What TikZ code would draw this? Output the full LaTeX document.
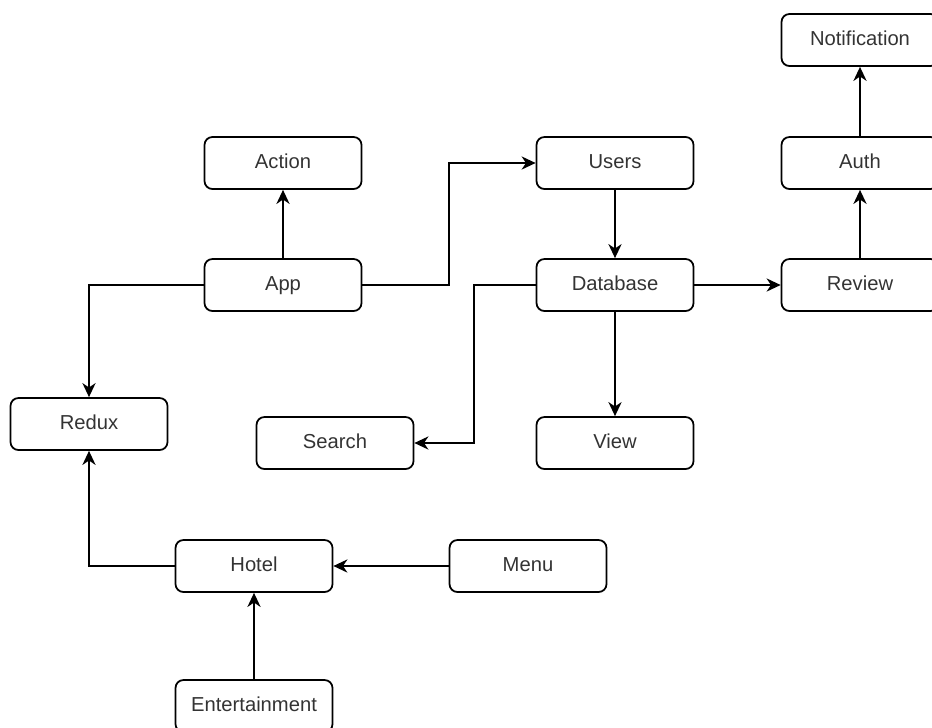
\documentclass[tikz,border=0pt]{standalone}
\usepackage{fontspec}
\setmainfont{Liberation Sans}
\usetikzlibrary{arrows.meta}
\definecolor{labelgray}{HTML}{333333}

\begin{document}
\begin{tikzpicture}[x=0.02cm,y=-0.02cm,
	block/.style={draw, line width=1pt, rounded corners=4.5pt, minimum width=3.14cm, minimum height=1.04cm, inner sep=0pt, text height=1.6ex, text depth=.4ex, text=labelgray, font=\fontsize{11.5}{13}\selectfont},
	link/.style={->,>={Stealth[length=8pt,width=7.5pt,inset=2.5pt]}, line width=1pt}]
	\clip (0,0) rectangle (932,727);

	\node[block](notif) at (860,40) {Notification};
	\node[block](action) at (283,163) {Action};
	\node[block](users) at (615,163) {Users};
	\node[block](auth) at (860,163) {Auth};
	\node[block](app) at (283,285) {App};
	\node[block](db) at (615,285) {Database};
	\node[block](review) at (860,285) {Review};
	\node[block](redux) at (89,424) {Redux};
	\node[block](search) at (335,443) {Search};
	\node[block](view) at (615,443) {View};
	\node[block](hotel) at (254,566) {Hotel};
	\node[block](menu) at (528,566) {Menu};
	\node[block](ent) at (254,706) {Entertainment};

	\draw[link](app) -- (action);
	\draw[link](app.east) -- ++(87,0) |- (users.west);
	\draw[link](app.west) -| (redux.north);
	\draw[link](users) -- (db);
	\draw[link](db) -- (view);
	\draw[link](db.west) -- ++(-62,0) |- (search.east);
	\draw[link](db) -- (review);
	\draw[link](review) -- (auth);
	\draw[link](auth) -- (notif);
	\draw[link](hotel.west) -| (redux.south);
	\draw[link](menu) -- (hotel);
	\draw[link](ent) -- (hotel);
\end{tikzpicture}
\end{document}
